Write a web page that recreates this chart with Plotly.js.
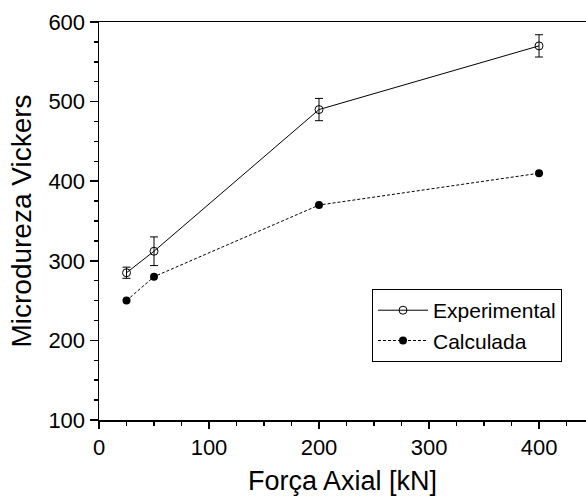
<!DOCTYPE html>
<html>
<head>
<meta charset="utf-8">
<script src="https://cdn.plot.ly/plotly-3.0.1.min.js"></script>
<style>html,body{margin:0;padding:0;background:#fff;}#chart{width:586px;height:500px;}</style>
</head>
<body>
<div id="chart"></div>
<script>
const forca = [25, 50, 200, 400];
const experimental = [285, 312, 490, 570];
const experimentalErr = [7, 18, 14, 14];
const calculada = [250, 280, 370, 410];
const xTickVals = [0, 100, 200, 300, 400];
const yTickVals = [100, 200, 300, 400, 500, 600];

const font = 'Liberation Sans';

const traces = [
  {
    x: forca, y: experimental, name: 'Experimental', type: 'scatter', mode: 'lines+markers',
    line: {color: 'black', width: 1},
    marker: {symbol: 'circle-open', size: 8, color: 'black', line: {width: 1}},
    error_y: {type: 'data', array: experimentalErr, visible: true, color: 'black', thickness: 1, width: 4}
  },
  {
    x: forca, y: calculada, name: 'Calculada', type: 'scatter', mode: 'lines+markers',
    line: {color: 'black', width: 1, dash: '3px,2px'},
    marker: {symbol: 'circle', size: 8, color: 'black'}
  }
];

const layout = {
  width: 586, height: 500,
  margin: {l: 99, r: 0, t: 22, b: 80},
  paper_bgcolor: 'white', plot_bgcolor: 'white',
  font: {family: font, color: 'black', size: 22},
  showlegend: true,
  legend: {
    x: 0.5606, y: 0.329, xanchor: 'left', yanchor: 'top',
    bordercolor: 'black', borderwidth: 1, bgcolor: 'white', itemwidth: 50,
    font: {family: font, size: 21, color: 'black'}, tracegroupgap: 0
  },
  xaxis: {
    range: [0, 442.7], tickvals: xTickVals, ticks: 'outside', ticklen: 7, tickwidth: 1.5, tickcolor: 'black',
    showline: true, linecolor: 'black', linewidth: 1.5, mirror: true, showgrid: false, zeroline: false,
    minor: {dtick: 25, tick0: 0, ticks: 'outside', ticklen: 4, tickwidth: 1.5, tickcolor: 'black', showgrid: false},
    tickfont: {family: font, size: 22},
    title: {text: 'Força Axial [kN]', font: {family: font, size: 27}, standoff: 12}
  },
  yaxis: {
    range: [100, 600], tickvals: yTickVals, ticks: 'outside', ticklen: 8, tickwidth: 1.5, tickcolor: 'black',
    showline: true, linecolor: 'black', linewidth: 1.5, showgrid: false, zeroline: false,
    minor: {dtick: 25, tick0: 100, ticks: 'outside', ticklen: 4, tickwidth: 1.5, tickcolor: 'black', showgrid: false},
    tickfont: {family: font, size: 22},
    title: {text: 'Microdureza Vickers', font: {family: font, size: 28}, standoff: 8}
  }
};

Plotly.newPlot('chart', traces, layout, {staticPlot: true, displayModeBar: false});
</script>
</body>
</html>
